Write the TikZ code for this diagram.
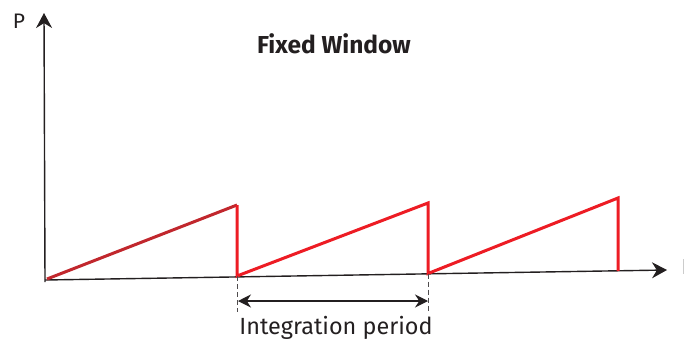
\documentclass[tikz,border=0pt]{standalone}
\usepackage{fontspec}
\setmainfont{Fira Sans}
\usetikzlibrary{arrows.meta}
\definecolor{darkred}{HTML}{C1272D}
\definecolor{brightred}{HTML}{ED1C24}
\definecolor{axisgray}{HTML}{231F20}
\begin{document}
\begin{tikzpicture}[x=1pt,y=-1pt,
  axisline/.style={line width=1.4pt, draw=axisgray, -{Stealth[length=15pt,width=16pt]}},
  ramp/.style={line width=3pt, draw=brightred, line join=miter, line cap=butt},
  guide/.style={line width=0.9pt, draw=axisgray!80, dash pattern=on 5pt off 3pt},
  span/.style={line width=1.3pt, draw=axisgray, {Stealth[length=13pt,width=13pt]}-{Stealth[length=13pt,width=13pt]}},
  lbl/.style={inner sep=0pt, text=axisgray}]
\useasboundingbox (0,0) rectangle (684,345);
% axes
\coordinate (O) at (45,280);
\coordinate (ytop) at (44,13);
\coordinate (xend) at (667,270);
\draw[axisline] (45,282) -- (ytop);
\draw[axisline] (O) -- (xend);
% sawtooth points
\coordinate (s0) at (47,279);
\coordinate (p1) at (237,205);
\coordinate (b1) at (237,276);
\coordinate (p2) at (428,203);
\coordinate (b2) at (428,273.5);
\coordinate (p3) at (618,198);
\coordinate (b3) at (618,271);
\draw[ramp, draw=darkred] (s0) -- (p1);
\draw[ramp] (p1) -- (b1) -- (p2) -- (b2) -- (p3) -- (b3);
% integration period
\coordinate (d1) at (237,312);
\coordinate (d2) at (428,312);
\draw[guide] (b1) -- (d1);
\draw[guide] (b2) -- (d2);
\coordinate (a1) at (238,301);
\coordinate (a2) at (428,301);
\draw[span] (a1) -- (a2);
\node[lbl, font=\fontsize{23.4}{26}\selectfont] (ip) at (336,328) {Integration period};
% labels
\node[lbl, font=\fontsize{21}{24}\selectfont] (P) at (19,21) {P};
\node[lbl, font=\bfseries\fontsize{24.5}{28}\selectfont] (title) at (334,44) {Fixed Window};
% clipped glyph at right edge
\coordinate (g1) at (683,259);
\coordinate (g2) at (683,274);
\draw[line width=0.8pt, draw=gray!40] (g1) -- (g2);
\end{tikzpicture}
\end{document}
